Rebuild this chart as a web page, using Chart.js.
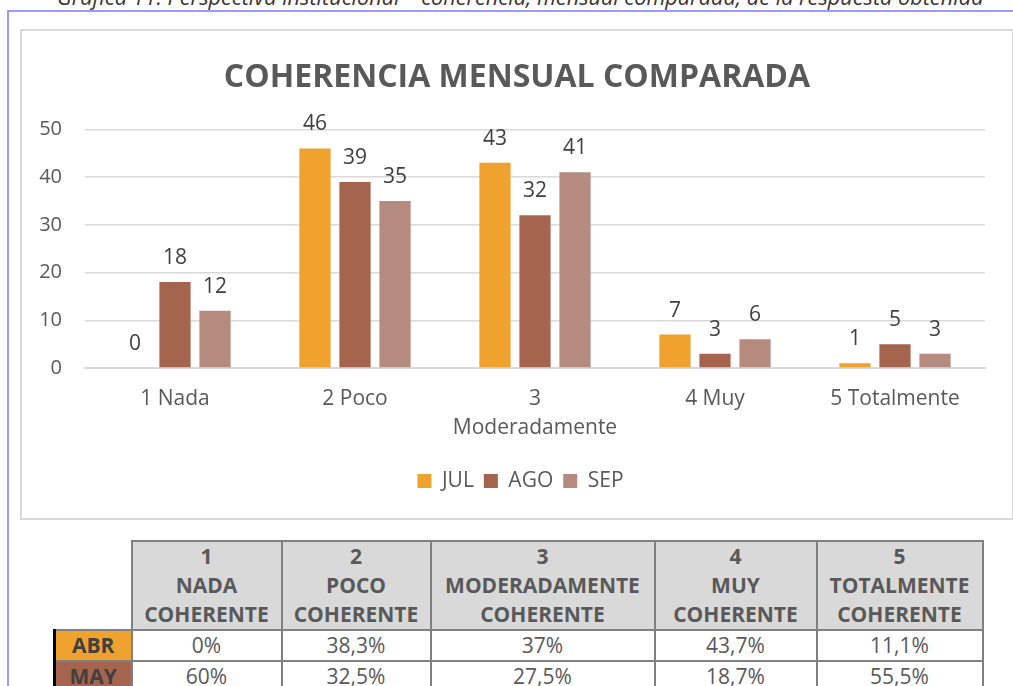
<!DOCTYPE html>
<html>
<head>
<meta charset="utf-8">
<script src="https://cdn.jsdelivr.net/npm/chart.js@4.4.1/dist/chart.umd.min.js"></script>
<style>
  body { margin: 0; width: 1013px; height: 686px; overflow: hidden; background: #fff; font-family: "Open Sans", sans-serif; position: relative; }
  #caption { position: absolute; left: 57px; top: -18px; font-style: italic; font-size: 21.7px; color: #3b3535; white-space: nowrap; }
  #frameTop { position: absolute; left: 8px; top: 10px; width: 1005px; height: 2px; background: #9999ff; }
  #frameLeft { position: absolute; left: 7px; top: 10px; width: 2px; height: 676px; background: #9999ff; }
  #box { position: absolute; left: 20px; top: 29px; width: 990px; height: 487px; border: 2px solid #d9d9d9; }
  #tabla { position: absolute; left: 53px; top: 540px; border-collapse: collapse; color: #595959; }
  #tabla th, #tabla td { border: 2px solid #808080; text-align: center; padding: 0; }
  #tabla th { background: #d9d9d9; font-weight: bold; font-size: 21px; height: 87px; line-height: 29px; }
  #tabla td { height: 29px; line-height: 29px; font-size: 21px; }
  #tabla th.blank { background: #fff; border: none; border-bottom: 2px solid #808080; }
  #tabla td.mes { font-weight: bold; color: #404040; border-left: 3px solid #000; }
</style>
</head>
<body>
<div id="caption">Gráfica 11: Perspectiva institucional – coherencia, mensual comparada, de la respuesta obtenida</div>
<div id="frameTop"></div>
<div id="frameLeft"></div>
<div id="box"><canvas id="grafico" width="990" height="487"></canvas></div>
<table id="tabla"></table>

<script>
// datos de la grafica
var categorias = ['1 Nada', '2 Poco', ['3', 'Moderadamente'], '4 Muy', '5 Totalmente']
var jul = [0, 46, 43, 7, 1]
var ago = [18, 39, 32, 3, 5]
var sep = [12, 35, 41, 6, 3]
var colores = ['#f0a22e', '#a5644e', '#b58b80']

// datos de la tabla
var encabezados = [['1', 'NADA', 'COHERENTE'], ['2', 'POCO', 'COHERENTE'], ['3', 'MODERADAMENTE', 'COHERENTE'], ['4', 'MUY', 'COHERENTE'], ['5', 'TOTALMENTE', 'COHERENTE']]
var anchos = [148, 147, 222, 160, 164]
var meses = ['ABR', 'MAY']
var abr = ['0%', '38,3%', '37%', '43,7%', '11,1%']
var may = ['60%', '32,5%', '27,5%', '18,7%', '55,5%']

// etiquetas encima de las barras
var etiquetas = {
    id: 'etiquetas',
    afterDatasetsDraw: function (chart) {
        var ctx = chart.ctx
        ctx.save()
        ctx.font = '21px "Open Sans"'
        ctx.fillStyle = '#404040'
        ctx.textAlign = 'center'
        ctx.textBaseline = 'alphabetic'
        chart.data.datasets.forEach(function (ds, i) {
            chart.getDatasetMeta(i).data.forEach(function (bar, j) {
                ctx.fillText(ds.data[j], bar.x, bar.y - 18)
            })
        })
        ctx.restore()
    }
}

// centrar titulo y leyenda en todo el recuadro (el padding derecho los desplaza)
var centrar = {
    id: 'centrar',
    afterLayout: function (chart) {
        if (chart.titleBlock) chart.titleBlock.left += 27
        if (chart.legend) chart.legend.left += 34
    }
}

var ctx = document.getElementById('grafico').getContext('2d')
new Chart(ctx, {
    type: 'bar',
    data: {
        labels: categorias,
        datasets: [
            { label: 'JUL', data: jul, backgroundColor: colores[0] },
            { label: 'AGO', data: ago, backgroundColor: colores[1] },
            { label: 'SEP', data: sep, backgroundColor: colores[2] }
        ]
    },
    options: {
        responsive: false,
        animation: false,
        layout: { padding: { left: 0, right: 27, top: 0, bottom: 16.5 } },
        datasets: { bar: { categoryPercentage: 0.667, barPercentage: 0.78 } },
        plugins: {
            title: {
                display: true,
                text: 'COHERENCIA MENSUAL COMPARADA',
                color: '#595959',
                font: { family: 'Open Sans', size: 32, weight: 'bold' },
                padding: { top: 28, bottom: 32 }
            },
            legend: {
                position: 'bottom',
                labels: {
                    boxWidth: 14, boxHeight: 14, padding: 10,
                    color: '#595959',
                    font: { family: 'Open Sans', size: 21 }
                }
            },
            tooltip: { enabled: false }
        },
        scales: {
            x: {
                grid: { display: false, drawTicks: false },
                border: { color: '#d9d9d9', width: 2 },
                ticks: {
                    color: '#595959', maxRotation: 0, autoSkip: false, padding: 16,
                    font: { family: 'Open Sans', size: 21, lineHeight: 1.4 }
                },
                afterFit: function (scale) { scale.height = 92.5 }
            },
            y: {
                min: 0, max: 50,
                grid: { color: '#d9d9d9', lineWidth: 1.5, drawTicks: false },
                border: { display: false },
                ticks: {
                    stepSize: 10, color: '#595959', padding: 23,
                    font: { family: 'Open Sans', size: 20 }
                },
                afterFit: function (scale) { scale.width = 63 }
            }
        }
    },
    plugins: [etiquetas, centrar]
})

// tabla de porcentajes
var tabla = document.getElementById('tabla')
var html = '<tr><th class="blank" style="width:76px"></th>'
encabezados.forEach(function (h, i) {
    html += '<th style="width:' + anchos[i] + 'px">' + h.join('<br>') + '</th>'
})
html += '</tr>'
var filas = [abr, may]
filas.forEach(function (fila, i) {
    html += '<tr><td class="mes" style="background:' + colores[i] + '">' + meses[i] + '</td>'
    fila.forEach(function (v) { html += '<td>' + v + '</td>' })
    html += '</tr>'
})
tabla.innerHTML = html
</script>
</body>
</html>
